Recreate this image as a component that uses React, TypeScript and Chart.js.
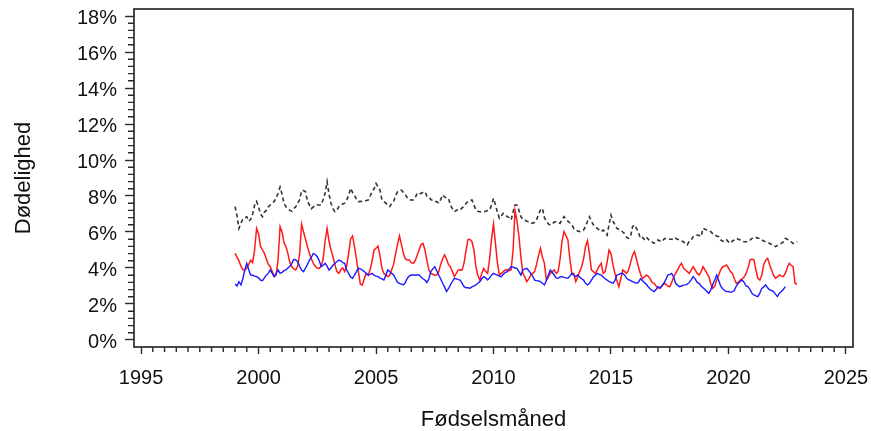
import React, { useEffect, useRef } from "react";
import { Chart, registerables } from "chart.js";

Chart.register(...registerables);

// Monthly data, first month = January 1999
const START_YEAR = 1999;

const xTickYears = [1995, 2000, 2005, 2010, 2015, 2020, 2025];
const yTickValues = [0, 2, 4, 6, 8, 10, 12, 14, 16, 18];

const xTitle = "Fødselsmåned";
const yTitle = "Dødelighed";

// black dashed series (%)
const blackRate = [
  7.41, 6.9, 6.2, 6.5, 6.7, 6.8, 6.85, 6.6, 6.7, 7.0, 7.5, 7.7,
  7.41, 7.0, 6.85, 7.1, 7.2, 7.4, 7.5, 7.6, 7.7, 7.9, 8.15, 8.5,
  8.1, 7.6, 7.4, 7.3, 7.2, 7.15, 7.3, 7.4, 7.6, 7.8, 8.3, 8.3,
  8.24, 7.7, 7.5, 7.3, 7.4, 7.5, 7.5, 7.5, 7.5, 7.8, 8.15, 8.8,
  8.1, 7.6, 7.3, 7.13, 7.2, 7.4, 7.5, 7.55, 7.6, 7.78, 8.0, 8.43,
  8.2, 8.06, 7.8, 7.69, 7.7, 7.69, 7.7, 7.75, 7.78, 8.0, 8.24, 8.4,
  8.7, 8.5, 8.33, 7.8, 7.69, 7.6, 7.5, 7.41, 7.6, 7.7, 8.0, 8.24,
  8.3, 8.33, 8.2, 8.06, 7.9, 7.78, 7.78, 7.78, 7.9, 8.15, 8.1, 8.15,
  8.2, 8.24, 8.0, 7.96, 7.8, 7.75, 7.69, 7.69, 7.6, 7.8, 8.06, 7.95,
  7.9, 7.87, 7.5, 7.3, 7.13, 7.2, 7.25, 7.22, 7.35, 7.41, 7.6, 7.69,
  7.75, 7.78, 7.5, 7.22, 7.15, 7.13, 7.1, 7.13, 7.15, 7.2, 7.22, 7.5,
  7.87, 7.5, 7.1, 6.76, 6.9, 7.04, 6.95, 6.85, 6.8, 6.67, 7.1, 7.5,
  7.5, 7.2, 6.85, 6.7, 6.67, 6.6, 6.57, 6.5, 6.48, 6.55, 6.67, 7.0,
  7.22, 7.31, 6.8, 6.6, 6.45, 6.39, 6.45, 6.55, 6.57, 6.5, 6.48, 6.7,
  6.85, 6.7, 6.6, 6.5, 6.4, 6.2, 6.1, 6.05, 6.02, 6.08, 6.11, 6.3,
  6.6, 6.85, 6.6, 6.4, 6.3, 6.2, 6.1, 6.02, 6.11, 6.0, 5.83, 6.4,
  6.94, 6.6, 6.4, 6.2, 6.15, 6.11, 6.0, 5.9, 5.7, 5.65, 5.74, 6.3,
  6.39, 6.2, 6.0, 5.65, 5.7, 5.6, 5.74, 5.6, 5.5, 5.45, 5.37, 5.45,
  5.56, 5.5, 5.46, 5.6, 5.65, 5.65, 5.6, 5.6, 5.56, 5.65, 5.6, 5.56,
  5.5, 5.46, 5.35, 5.28, 5.5, 5.56, 5.74, 5.8, 5.83, 5.8, 5.74, 6.2,
  6.15, 6.11, 6.05, 6.02, 5.9, 5.83, 5.78, 5.74, 5.56, 5.5, 5.46, 5.56,
  5.45, 5.37, 5.5, 5.56, 5.65, 5.6, 5.56, 5.5, 5.46, 5.46, 5.46, 5.55,
  5.65, 5.7, 5.7, 5.65, 5.65, 5.56, 5.5, 5.46, 5.4, 5.37, 5.3, 5.28,
  5.19, 5.25, 5.3, 5.37, 5.45, 5.65, 5.6, 5.56, 5.45, 5.37, 5.37, 5.46,
];

// red series (%)
const redRate = [
  4.81, 4.6, 4.4, 4.1, 3.9, 3.89, 4.0, 4.2, 4.44, 4.3, 5.0, 6.2,
  5.9, 5.2, 5.0, 4.81, 4.5, 4.2, 4.07, 3.8, 3.52, 3.6, 4.5, 6.3,
  6.0, 5.4, 5.19, 4.8, 4.3, 4.07, 3.95, 3.89, 4.1, 4.8, 6.44, 6.0,
  5.6, 5.19, 4.8, 4.5, 4.26, 4.1, 4.0, 3.98, 4.1, 4.5, 5.5, 6.2,
  5.5, 5.0, 4.63, 4.2, 3.8, 3.7, 3.9, 4.0, 3.8, 4.1, 4.8, 5.6,
  5.78, 5.2, 4.5, 3.8, 3.1, 3.06, 3.4, 3.7, 3.6, 3.9, 4.4, 5.0,
  5.1, 5.22, 4.7, 4.0, 3.7, 3.6, 3.52, 3.6, 3.9, 4.2, 4.8, 5.3,
  5.78, 5.3, 4.8, 4.5, 4.44, 4.44, 4.3, 4.26, 4.4, 4.7, 5.0, 5.3,
  5.37, 5.0, 4.4, 3.9, 3.7, 3.65, 3.6, 3.61, 3.8, 4.2, 4.5, 4.72,
  4.5, 4.2, 4.07, 3.8, 3.52, 3.7, 3.89, 3.9, 3.89, 4.3, 5.0, 5.59,
  5.59, 5.46, 5.0, 4.07, 3.6, 3.33, 3.7, 3.98, 3.8, 3.7, 4.5, 5.6,
  6.44, 5.37, 4.3, 3.61, 3.7, 3.8, 3.89, 3.9, 3.85, 3.89, 5.0, 7.19,
  6.6, 5.74, 4.6, 3.7, 3.5, 3.24, 3.4, 3.6, 3.7, 3.8, 4.2, 4.7,
  5.09, 4.6, 4.26, 3.33, 3.5, 3.7, 3.8, 3.89, 3.7, 3.8, 4.5, 5.5,
  6.02, 5.8, 5.56, 4.5, 3.7, 3.7, 3.24, 3.5, 3.8, 4.07, 4.5, 5.2,
  5.52, 4.8, 3.89, 3.8, 3.7, 3.9, 4.1, 4.26, 3.7, 3.8, 4.3, 5.0,
  4.8, 4.2, 3.7, 3.3, 2.96, 3.4, 3.89, 3.8, 3.7, 3.9, 4.3, 4.7,
  4.91, 4.5, 4.07, 3.7, 3.4, 3.5, 3.6, 3.55, 3.4, 3.2, 3.15, 3.0,
  2.9, 2.87, 3.0, 3.15, 3.1, 3.0, 2.96, 3.2, 3.5, 3.7, 3.9, 4.1,
  4.26, 4.0, 3.89, 3.8, 3.7, 3.9, 4.07, 3.9, 3.7, 3.61, 3.8, 4.07,
  3.9, 3.7, 3.52, 3.1, 2.87, 3.0, 3.33, 3.6, 3.9, 4.07, 4.1, 4.17,
  4.0, 3.8, 3.7, 3.4, 3.15, 3.2, 3.33, 3.4, 3.5, 3.7, 4.0, 4.44,
  4.5, 4.44, 3.9, 3.43, 3.33, 3.6, 4.2, 4.44, 4.54, 4.2, 3.89, 3.6,
  3.43, 3.5, 3.61, 3.55, 3.52, 3.7, 4.0, 4.26, 4.15, 4.07, 3.15, 3.1,
];

// blue series (%), ends June 2022
const blueRate = [
  3.11, 3.0, 3.24, 3.06, 3.4, 3.9, 4.26, 3.9, 3.61, 3.6, 3.55, 3.52,
  3.45, 3.33, 3.3, 3.45, 3.6, 3.7, 3.89, 3.7, 3.52, 3.7, 3.89, 3.7,
  3.75, 3.85, 3.89, 4.0, 4.1, 4.26, 4.48, 4.45, 4.35, 4.1, 3.89, 3.8,
  4.0, 4.2, 4.44, 4.6, 4.81, 4.75, 4.63, 4.4, 4.07, 4.15, 4.26, 4.1,
  3.89, 4.0, 4.15, 4.26, 4.35, 4.44, 4.4, 4.3, 4.26, 3.9, 3.7, 3.5,
  3.43, 3.6, 3.8, 3.98, 3.95, 3.89, 3.8, 3.7, 3.61, 3.65, 3.7, 3.6,
  3.55, 3.52, 3.45, 3.4, 3.33, 3.6, 3.89, 3.8, 3.7, 3.61, 3.4, 3.2,
  3.15, 3.1, 3.06, 3.2, 3.43, 3.55, 3.61, 3.61, 3.6, 3.61, 3.61, 3.5,
  3.4, 3.33, 3.2, 3.4, 3.8, 3.95, 4.07, 3.85, 3.61, 3.4, 3.15, 2.95,
  2.69, 2.85, 3.06, 3.25, 3.43, 3.4, 3.35, 3.33, 3.15, 2.96, 2.9, 2.9,
  2.87, 2.95, 3.0, 3.06, 3.15, 3.24, 3.4, 3.52, 3.45, 3.33, 3.45, 3.6,
  3.7, 3.65, 3.61, 3.55, 3.52, 3.65, 3.75, 3.8, 3.95, 4.07, 4.05, 4.0,
  3.98, 3.8, 3.61, 3.89, 3.95, 3.98, 3.85, 3.7, 3.55, 3.33, 3.3, 3.28,
  3.24, 3.15, 3.06, 3.3, 3.6, 3.89, 3.75, 3.61, 3.45, 3.43, 3.5, 3.52,
  3.48, 3.45, 3.43, 3.55, 3.7, 3.6, 3.52, 3.61, 3.5, 3.4, 3.33, 3.15,
  3.06, 3.15, 3.33, 3.5, 3.6, 3.7, 3.65, 3.61, 3.5, 3.4, 3.33, 3.25,
  3.2, 3.15, 3.3, 3.61, 3.65, 3.7, 3.7, 3.6, 3.43, 3.35, 3.3, 3.24,
  3.2, 3.15, 3.2, 3.4, 3.3, 3.2, 3.1, 2.96, 2.85, 2.75, 2.69, 2.8,
  2.96, 2.9, 3.0, 3.15, 3.35, 3.61, 3.65, 3.7, 3.5, 3.15, 3.05, 2.96,
  3.0, 3.05, 3.06, 3.1, 3.2, 3.35, 3.52, 3.4, 3.2, 3.15, 3.0, 2.9,
  2.8, 2.7, 2.59, 2.8, 3.1, 3.33, 3.61, 3.3, 3.0, 2.85, 2.75, 2.69,
  2.7, 2.65, 2.69, 2.75, 3.0, 3.15, 3.25, 3.33, 3.2, 3.0, 2.96, 2.8,
  2.59, 2.5, 2.45, 2.41, 2.6, 2.87, 2.95, 3.06, 2.9, 2.78, 2.75, 2.69,
  2.55, 2.41, 2.6, 2.69, 2.8, 2.96,
];

const INK = "#2a2a2a";
const FONT = "'Liberation Sans', Arial, Helvetica, sans-serif";

const toPoints = (arr: number[]) =>
  arr.map((v, i) => ({ x: START_YEAR + i / 12, y: v }));

export default function App() {
  const ref = useRef<HTMLCanvasElement>(null);

  useEffect(() => {
    if (!ref.current) return;

    const framePlugin = {
      id: "frameAndMinorTicks",
      afterDraw(chart: any) {
        const { ctx, chartArea } = chart;
        const xs = chart.scales.x;
        const ys = chart.scales.y;
        ctx.save();
        ctx.strokeStyle = INK;
        ctx.lineWidth = 1.4;
        ctx.beginPath();
        // minor x ticks every half year
        for (let k = 0; k <= 60; k++) {
          if (k % 10 === 0) continue;
          const v = 1995 + k * 0.5;
          const px = xs.getPixelForValue(v);
          ctx.moveTo(px, chartArea.bottom);
          ctx.lineTo(px, chartArea.bottom + 5);
        }
        // minor y ticks every 0.4%
        for (let k = 0; k <= 45; k++) {
          if (k % 5 === 0) continue;
          const v = k * 0.4;
          const py = ys.getPixelForValue(v);
          ctx.moveTo(chartArea.left - 6, py);
          ctx.lineTo(chartArea.left, py);
        }
        ctx.stroke();
        ctx.lineWidth = 1.7;
        ctx.strokeRect(
          chartArea.left,
          chartArea.top,
          chartArea.right - chartArea.left,
          chartArea.bottom - chartArea.top
        );
        ctx.restore();
      },
    };

    Chart.defaults.font.family = FONT;

    const chart = new Chart(ref.current, {
      type: "line",
      data: {
        datasets: [
          {
            label: "blue",
            data: toPoints(blueRate),
            borderColor: "#1a1aff",
            borderWidth: 1.4,
            pointRadius: 0,
            fill: false,
            tension: 0,
            order: 0,
          },
          {
            label: "red",
            data: toPoints(redRate),
            borderColor: "#ff1a1a",
            borderWidth: 1.5,
            pointRadius: 0,
            fill: false,
            tension: 0,
            order: 1,
          },
          {
            label: "black",
            data: toPoints(blackRate),
            borderColor: "#333333",
            borderWidth: 1.6,
            borderDash: [4, 3],
            pointRadius: 0,
            fill: false,
            tension: 0,
            order: 2,
          },
        ],
      },
      options: {
        animation: false,
        responsive: false,
        maintainAspectRatio: false,
        layout: { padding: { top: 9, right: 18, left: 0, bottom: 0 } },
        plugins: {
          legend: { display: false },
          tooltip: { enabled: false },
          title: { display: false },
        },
        scales: {
          x: {
            type: "linear",
            min: 1994.7,
            max: 2025.3,
            afterBuildTicks: (s: any) => {
              s.ticks = xTickYears.map((v) => ({ value: v }));
            },
            afterFit: (s: any) => {
              s.height = 84;
              s.paddingLeft = 0;
              s.paddingRight = 0;
            },
            ticks: {
              callback: (v: any) => String(v),
              font: { size: 20, family: FONT },
              color: "#111",
              padding: 12,
              maxRotation: 0,
              autoSkip: false,
            },
            grid: {
              display: true,
              drawOnChartArea: false,
              drawTicks: true,
              tickLength: 7,
              tickColor: INK,
              tickWidth: 1.4,
            },
            border: { display: false },
            title: {
              display: true,
              text: xTitle,
              color: "#111",
              font: { size: 22, family: FONT, lineHeight: 1 },
              padding: { top: 0, bottom: 0 },
            },
          },
          y: {
            type: "linear",
            min: -0.389,
            max: 18.389,
            afterBuildTicks: (s: any) => {
              s.ticks = yTickValues.map((v) => ({ value: v }));
            },
            afterFit: (s: any) => {
              s.width = 134;
              s.paddingTop = 0;
              s.paddingBottom = 0;
            },
            ticks: {
              callback: (v: any) => `${v}%`,
              font: { size: 20, family: FONT },
              color: "#111",
              padding: 8,
              labelOffset: 2,
              autoSkip: false,
            },
            grid: {
              display: true,
              drawOnChartArea: false,
              drawTicks: true,
              tickLength: 9,
              tickColor: INK,
              tickWidth: 1.4,
            },
            border: { display: false },
            title: {
              display: true,
              text: yTitle,
              color: "#111",
              font: { size: 22, family: FONT, lineHeight: 1 },
              padding: { top: 12.5, bottom: 0 },
            },
          },
        },
      },
      plugins: [framePlugin],
    } as any);

    return () => chart.destroy();
  }, []);

  return (
    <div
      style={{
        position: "fixed",
        left: 0,
        top: 0,
        width: 871,
        height: 431,
        background: "#fff",
      }}
    >
      <canvas
        ref={ref}
        width={871}
        height={431}
        style={{ display: "block", width: 871, height: 431 }}
      />
    </div>
  );
}
